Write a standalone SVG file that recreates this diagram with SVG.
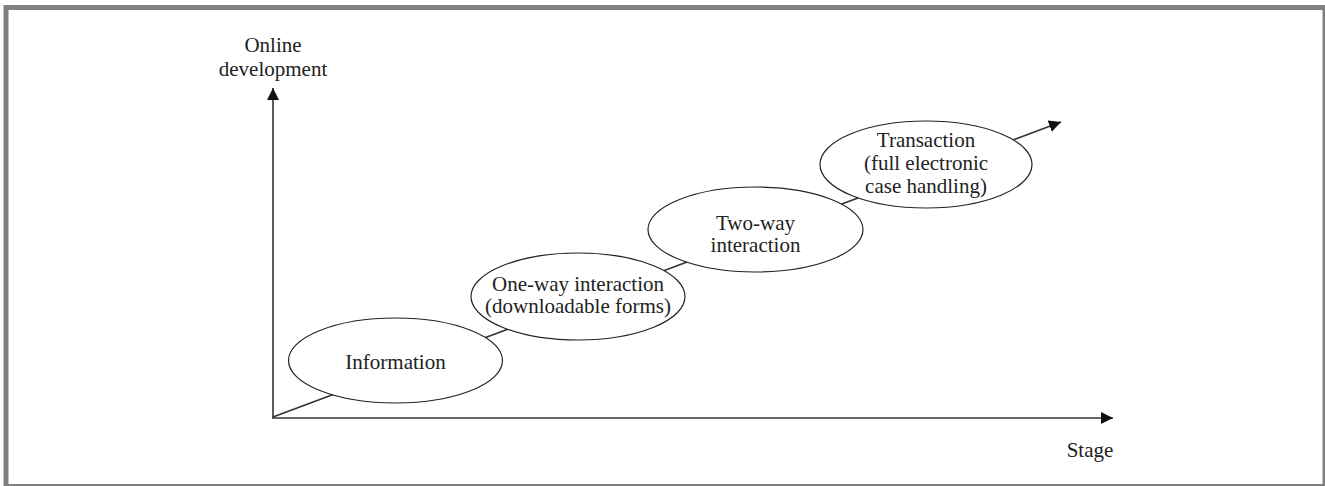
<svg xmlns="http://www.w3.org/2000/svg" width="1325" height="486" viewBox="0 0 1325 486">
<defs>
<style>
.t{font-family:"Liberation Serif","Times New Roman",serif;font-size:21px;fill:#222;text-anchor:middle}
.e{fill:#fff;stroke:#222;stroke-width:1.2}
.l{stroke:#333;stroke-width:1.6;fill:none}
</style>
<marker id="ah" markerWidth="12" markerHeight="12" viewBox="0 0 12 12" refX="12" refY="6" orient="auto" markerUnits="userSpaceOnUse">
<path d="M0,0 L12,6 L0,12 Z" fill="#111"/>
</marker>
</defs>
<rect x="0" y="0" width="1325" height="486" fill="#fff"/>
<rect x="6" y="7.5" width="1319" height="479" fill="none" stroke="#808080" stroke-width="5"/>
<g id="connectors">
<line class="l" x1="273" y1="418" x2="273" y2="88" marker-end="url(#ah)"/>
<line class="l" x1="272" y1="418" x2="1113" y2="418" marker-end="url(#ah)"/>
<line class="l" x1="273" y1="417" x2="1061" y2="122" marker-end="url(#ah)"/>
</g>
<g id="axis-y-label">
<text class="t" x="273" y="52">Online</text>
<text class="t" x="273" y="76">development</text>
</g>
<g id="axis-x-label">
<text class="t" x="1090" y="457">Stage</text>
</g>
<g id="information">
<ellipse class="e" cx="395.5" cy="360.5" rx="107" ry="42.5"/>
<text class="t" x="395.5" y="369">Information</text>
</g>
<g id="one-way">
<ellipse class="e" cx="578" cy="296.5" rx="107" ry="43.5"/>
<text class="t" x="578" y="291">One-way interaction</text>
<text class="t" x="578" y="313">(downloadable forms)</text>
</g>
<g id="two-way">
<ellipse class="e" cx="755.5" cy="229.5" rx="107.5" ry="42.5"/>
<text class="t" x="755.5" y="230">Two-way</text>
<text class="t" x="755.5" y="252">interaction</text>
</g>
<g id="transaction">
<ellipse class="e" cx="926" cy="164.5" rx="106" ry="43.5"/>
<text class="t" x="926" y="147">Transaction</text>
<text class="t" x="926" y="170">(full electronic</text>
<text class="t" x="926" y="193">case handling)</text>
</g>
</svg>
